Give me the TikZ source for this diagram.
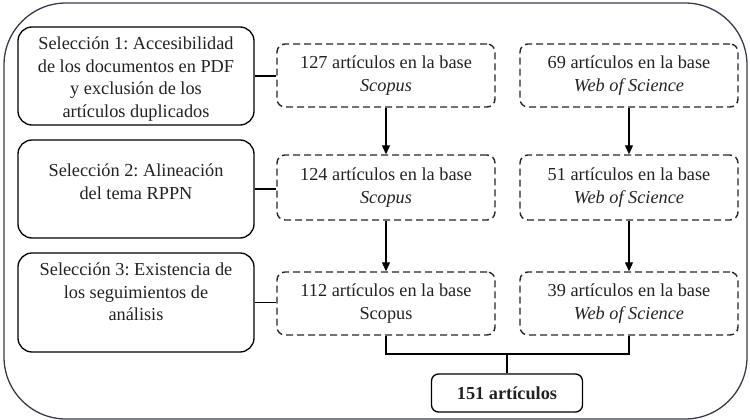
\documentclass[tikz,border=0pt]{standalone}
\usepackage{fontspec}
\setmainfont{Liberation Serif}
\usetikzlibrary{arrows.meta}
\definecolor{outercol}{HTML}{3A3A4C}
\definecolor{txtcol}{HTML}{222222}
\begin{document}
\frenchspacing
\begin{tikzpicture}[x=1pt,y=-1pt,
  every node/.style={font=\fontsize{18.3}{22.7}\selectfont\frenchspacing, text=txtcol, align=center, inner sep=0pt},
  selbox/.style={draw=black, line width=1.3pt, rounded corners=14pt, minimum width=236pt, minimum height=98pt},
  dbox/.style={draw=black!85, dashed, dash pattern=on 7pt off 4pt, line width=1.4pt, rounded corners=8pt, minimum width=218pt, minimum height=63pt},
  totbox/.style={draw=black, line width=1.3pt, rounded corners=7pt, minimum width=151pt, minimum height=38pt},
  conn/.style={draw=black, line width=1.2pt},
  arr/.style={conn, -{Triangle[length=9pt,width=8pt]}}
]
\useasboundingbox (0,0) rectangle (750,420);
\draw[outercol, line width=1.3pt, rounded corners=62pt] (4,3) rectangle (747,419);

\node[selbox] (s1) at (136,76) {};
\node (s1t) at (136,79) {Selección 1: Accesibilidad\\de los documentos en PDF\\y exclusión de los\\artículos duplicados};
\node[selbox] (s2) at (136,189) {};
\node (s2t) at (136,182) {Selección 2: Alineación\\del tema RPPN};
\node[selbox, minimum height=99pt] (s3) at (136,302.5) {};
\node (s3t) at (136,292) {Selección 3: Existencia de\\los seguimientos de\\análisis};

\node[dbox] (a1) at (386,75.5) {127 artículos en la base\\\textit{Scopus}};
\node[dbox, minimum height=65pt] (a2) at (386,187.5) {124 artículos en la base\\\textit{Scopus}};
\node[dbox] (a3) at (386,303.5) {112 artículos en la base\\Scopus};

\node[dbox] (b1) at (629,75.5) {69 artículos en la base\\\textit{Web of Science}};
\node[dbox, minimum height=65pt] (b2) at (629,187.5) {51 artículos en la base\\\textit{Web of Science}};
\node[dbox] (b3) at (629,303.5) {39 artículos en la base\\\textit{Web of Science}};

\node[totbox] (t) at (507,393) {\textbf{151 artículos}};

\draw[conn] (s1.east) -- (s1.east -| a1.west);
\draw[conn] (s2.east) -- (s2.east -| a2.west);
\draw[conn] (s3.east) -- (s3.east -| a3.west);

\draw[arr] (a1.south) -- (a2.north);
\draw[arr] (a2.south) -- (a3.north);
\draw[arr] (b1.south) -- (b2.north);
\draw[arr] (b2.south) -- (b3.north);

\coordinate (m) at (507,354);
\draw[conn] (a3.south) |- (m) -| (b3.south);
\draw[conn] (m) -- (t.north);
\end{tikzpicture}
\end{document}
